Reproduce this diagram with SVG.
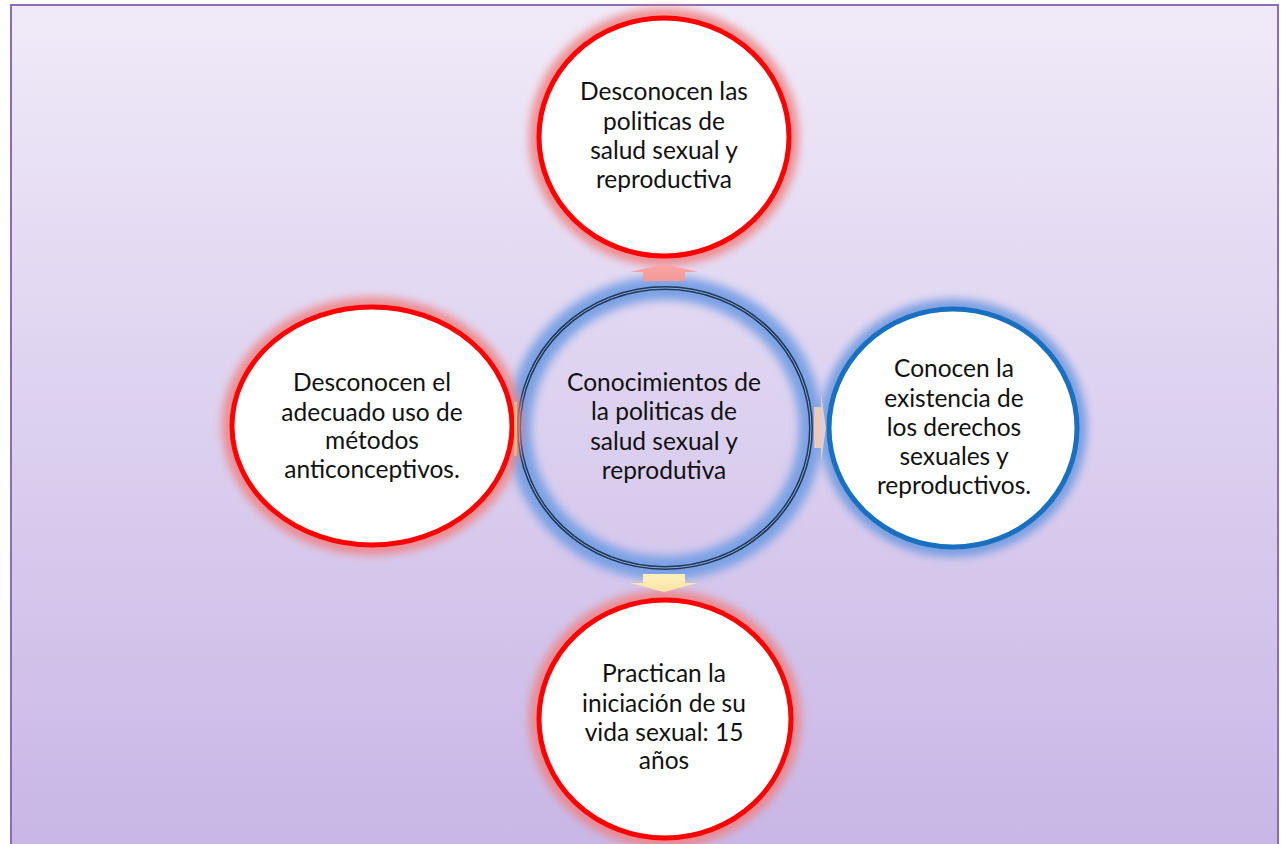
<svg xmlns="http://www.w3.org/2000/svg" width="1283" height="844" viewBox="0 0 1283 844">
<defs>
<linearGradient id="bg" x1="0" y1="0" x2="0" y2="1">
<stop offset="0" stop-color="#f0eaf8"/>
<stop offset="1" stop-color="#c8b6e6"/>
</linearGradient>
<linearGradient id="gPink" x1="0" y1="0" x2="0" y2="1">
<stop offset="0" stop-color="#f8a6a6"/>
<stop offset="1" stop-color="#f49a98"/>
</linearGradient>
<linearGradient id="gYel" x1="0" y1="0" x2="0" y2="1">
<stop offset="0" stop-color="#fdf0c0"/>
<stop offset="1" stop-color="#f9e3a0"/>
</linearGradient>
<linearGradient id="gPeach" x1="0" y1="0" x2="1" y2="0">
<stop offset="0" stop-color="#f0c8b0"/>
<stop offset="1" stop-color="#d8d0dc"/>
</linearGradient>
<filter id="blur" x="-20%" y="-20%" width="140%" height="140%">
<feGaussianBlur stdDeviation="4"/>
</filter>
<filter id="blur2" x="-20%" y="-20%" width="140%" height="140%">
<feGaussianBlur stdDeviation="5"/>
</filter>
</defs>
<style>
.lbl{font-family:"Lato","Open Sans","Liberation Sans",sans-serif;font-size:24.5px;fill:#111;text-anchor:middle}
.redglow{fill:none;stroke:#f08080;stroke-width:16;opacity:0.85}
.red{fill:#fff;stroke:#ff0000;stroke-width:5}
.blueglow{fill:none;stroke:#6f9ae0;stroke-width:16;opacity:0.9}
.blue{fill:#fff;stroke:#1a70c0;stroke-width:5}
</style>
<rect x="11" y="5" width="1267" height="845" fill="url(#bg)" stroke="#8b6db3" stroke-width="2"/>

<g id="center">
<ellipse cx="665" cy="428" rx="146" ry="140" fill="none" stroke="#7aa0e4" stroke-width="24" filter="url(#blur2)"/>
<ellipse cx="665" cy="428" rx="146" ry="140" fill="none" stroke="#1f3a5a" stroke-width="4"/>
<ellipse cx="665" cy="428" rx="146" ry="140" fill="none" stroke="#8fa8d8" stroke-width="1"/>
<text class="lbl"><tspan x="664" y="391">Conocimientos de</tspan><tspan x="664" y="420">la politicas de</tspan><tspan x="664" y="450">salud sexual y</tspan><tspan x="664" y="479">reprodutiva</tspan></text>
</g>

<g id="top">
<ellipse cx="664" cy="137" rx="127" ry="121" class="redglow" filter="url(#blur)"/>
<ellipse cx="664" cy="137" rx="125" ry="119" class="red"/>
<text class="lbl"><tspan x="664" y="100">Desconocen las</tspan><tspan x="664" y="130">politicas de</tspan><tspan x="664" y="159">salud sexual y</tspan><tspan x="664" y="188">reproductiva</tspan></text>
</g>

<g id="left">
<ellipse cx="372" cy="426" rx="142" ry="121" class="redglow" filter="url(#blur)"/>
<ellipse cx="372" cy="426" rx="140" ry="119" class="red"/>
<text class="lbl"><tspan x="372" y="391">Desconocen el</tspan><tspan x="372" y="421">adecuado uso de</tspan><tspan x="372" y="449">métodos</tspan><tspan x="372" y="478">anticonceptivos.</tspan></text>
</g>

<g id="right">
<ellipse cx="953" cy="428" rx="126" ry="121" class="blueglow" filter="url(#blur)"/>
<ellipse cx="953" cy="428" rx="124" ry="119" class="blue"/>
<text class="lbl"><tspan x="954" y="377">Conocen la</tspan><tspan x="954" y="407">existencia de</tspan><tspan x="954" y="436">los derechos</tspan><tspan x="954" y="465">sexuales y</tspan><tspan x="954" y="494">reproductivos.</tspan></text>
</g>

<g id="bottom">
<ellipse cx="665" cy="719" rx="128" ry="121" class="redglow" filter="url(#blur)"/>
<ellipse cx="665" cy="719" rx="126" ry="119" class="red"/>
<text class="lbl"><tspan x="664" y="682">Practican la</tspan><tspan x="664" y="712">iniciación de su</tspan><tspan x="664" y="741">vida sexual: 15</tspan><tspan x="664" y="769">años</tspan></text>
</g>

<g id="connectors">
<polygon points="643,281 643,272 630,272 664,264 698,272 685,272 685,281" fill="url(#gPink)"/>
<polygon points="643,574 685,574 685,583 698,583 664,592 630,583 643,583" fill="url(#gYel)"/>
<polygon points="814,407 821,407 821,393 826,428 821,462 821,448 814,448" fill="url(#gPeach)"/>
<polygon points="517,402 514,402 514,456 517,456" fill="#f5b070"/>
</g>
</svg>
